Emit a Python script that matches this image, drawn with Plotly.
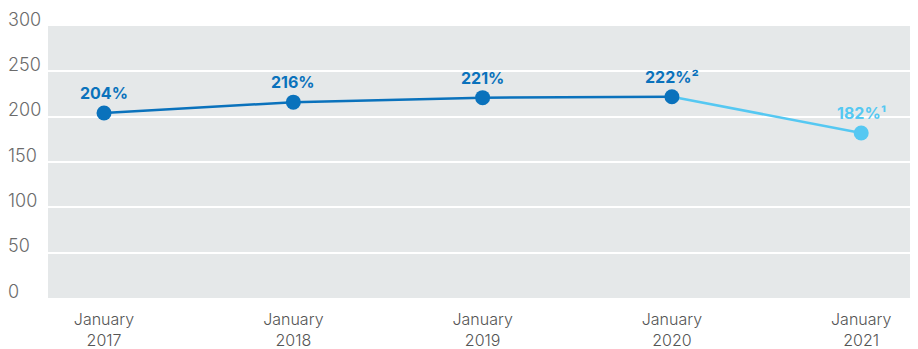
import plotly.graph_objects as go

categories = ["January<br>2017", "January<br>2018", "January<br>2019", "January<br>2020", "January<br>2021"]
values = [204, 216, 221, 222, 182]
labels = ["204%", "216%", "221%", "222%²", "182%¹"]
y_ticks = [0, 50, 100, 150, 200, 250, 300]

DARK = "#0a72bc"
LIGHT = "#55c8f2"
FONT = "Inter"
xs = list(range(len(categories)))

fig = go.Figure()
fig.add_trace(go.Scatter(x=xs[3:], y=values[3:], mode="lines",
                         line=dict(color=LIGHT, width=2.5), hoverinfo="skip"))
fig.add_trace(go.Scatter(x=xs[:4], y=values[:4], mode="lines",
                         line=dict(color=DARK, width=2.5), hoverinfo="skip"))
fig.add_trace(go.Scatter(x=xs, y=values, mode="markers",
                         marker=dict(size=15, color=[DARK]*4 + [LIGHT]), hoverinfo="skip"))

for i, (v, t) in enumerate(zip(values, labels)):
    fig.add_annotation(x=xs[i], y=v, text="<b>%s</b>" % t, showarrow=False,
                       yshift=20, font=dict(size=16, color=DARK if i < 4 else LIGHT, family=FONT))

for t in y_ticks:
    fig.add_annotation(x=-0.048, xref="paper", y=t, yref="y", text=str(t), showarrow=False,
                       xanchor="left", yanchor="middle", yshift=7,
                       font=dict(size=18, color="#6b6b6b", family=FONT, weight=300))

fig.update_layout(
    width=910, height=341,
    margin=dict(l=40, r=0, t=18, b=51, autoexpand=False),
    paper_bgcolor="white", plot_bgcolor="#e5e8e9",
    showlegend=False,
    font=dict(family=FONT),
    xaxis=dict(range=[-0.296, 4.3], tickmode="array", tickvals=xs, ticktext=categories,
               showgrid=False, zeroline=False, showline=False, ticks="", automargin=False,
               tickfont=dict(size=16, color="#555555", family=FONT, weight=300),
               ticklabelstandoff=10, fixedrange=True),
    yaxis=dict(range=[0, 300], tickvals=y_ticks, showticklabels=False, showgrid=True, automargin=False,
               gridcolor="white", gridwidth=1.5, zeroline=False, showline=False, ticks="", fixedrange=True),
)

fig.write_html("out.html")
